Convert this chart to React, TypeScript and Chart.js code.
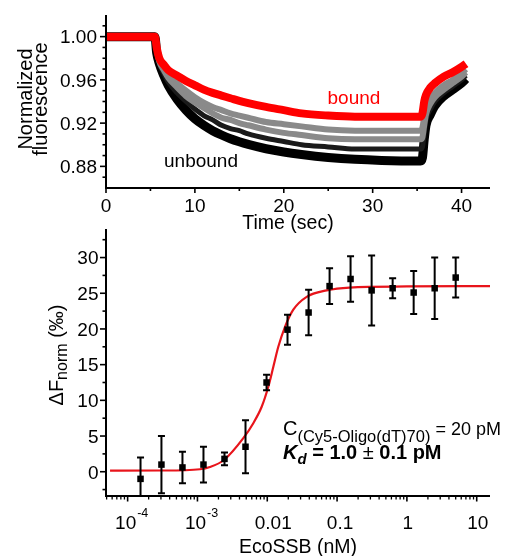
import { useEffect, useRef } from "react";
import { Chart, registerables } from "chart.js";

Chart.register(...registerables);

const SANS = '"Liberation Sans", Arial, Helvetica, sans-serif';

// ---------------- top panel: fluorescence traces ----------------
const timeSec = [0, 5.5, 5.7, 6.0, 6.5, 7, 8, 9, 10, 11, 12, 13, 14, 15, 16, 18, 20, 22, 25, 28, 31, 35.4, 35.6, 35.8, 36, 36.5, 37, 38, 39, 40, 40.5];
const fluorBound = [1.0, 1.0, 0.99, 0.98, 0.974, 0.969, 0.964, 0.959, 0.955, 0.951, 0.948, 0.9455, 0.943, 0.9405, 0.9385, 0.935, 0.932, 0.929, 0.927, 0.926, 0.926, 0.926, 0.929, 0.94, 0.946, 0.953, 0.957, 0.963, 0.967, 0.972, 0.975];
const fluorGrayA = [1.0, 1.0, 0.989, 0.979, 0.971, 0.965, 0.957, 0.95, 0.944, 0.939, 0.935, 0.932, 0.929, 0.927, 0.925, 0.921, 0.919, 0.917, 0.914, 0.913, 0.913, 0.913, 0.916, 0.926, 0.934, 0.942, 0.948, 0.955, 0.96, 0.966, 0.97];
const fluorGrayB = [1.0, 1.0, 0.988, 0.977, 0.969, 0.962, 0.953, 0.945, 0.939, 0.934, 0.929, 0.925, 0.923, 0.92, 0.918, 0.914, 0.911, 0.909, 0.906, 0.905, 0.905, 0.905, 0.907, 0.918, 0.928, 0.938, 0.944, 0.951, 0.957, 0.963, 0.967];
const fluorBlackA = [1.0, 1.0, 0.987, 0.975, 0.966, 0.958, 0.948, 0.94, 0.933, 0.927, 0.923, 0.918, 0.915, 0.913, 0.91, 0.906, 0.903, 0.9, 0.898, 0.896, 0.896, 0.896, 0.898, 0.911, 0.923, 0.933, 0.94, 0.948, 0.954, 0.96, 0.964];
const fluorUnbound = [1.0, 1.0, 0.985, 0.975, 0.964, 0.955, 0.942, 0.932, 0.924, 0.918, 0.913, 0.909, 0.9055, 0.9027, 0.9003, 0.8963, 0.8933, 0.891, 0.8883, 0.8865, 0.8855, 0.885, 0.888, 0.905, 0.918, 0.928, 0.936, 0.945, 0.951, 0.957, 0.961];

const timeMajorTicks = [0, 10, 20, 30, 40];
const timeMinorTicks = [5, 15, 25, 35];
const fluorMajorTicks = [0.88, 0.92, 0.96, 1.0];
const fluorMinorTicks = [0.87, 0.89, 0.9, 0.91, 0.93, 0.94, 0.95, 0.97, 0.98, 0.99, 1.01];

// ---------------- bottom panel: titration ----------------
const ecoSSBnM = [0.000153, 0.000305, 0.00061, 0.00122, 0.00244, 0.00488, 0.00977, 0.0195, 0.0391, 0.0781, 0.156, 0.3125, 0.625, 1.25, 2.5, 5];
const dFnorm = [-1.0, 1.0, 0.6, 1.0, 1.8, 3.5, 12.5, 19.9, 22.3, 26.0, 27.0, 25.4, 25.7, 25.1, 25.7, 27.2];
const dFnormErr = [3.0, 4.0, 2.2, 2.5, 0.9, 3.7, 1.1, 2.1, 3.2, 2.5, 3.2, 4.9, 1.4, 3.0, 4.3, 2.8];
const fitConcNM = [5.6e-5, 3e-4, 1.09e-3, 1.51e-3, 2.4e-3, 4.54e-3, 6.31e-3, 8.32e-3, 0.01035, 0.01222, 0.01439, 0.01795, 0.0236, 0.0367, 0.071, 0.15, 1, 15.5];
const fitDF = [0.15, 0.17, 0.35, 0.65, 1.64, 4.7, 6.8, 9.1, 11.9, 14.7, 17.5, 20.3, 22.7, 24.5, 25.4, 25.8, 25.95, 26.0];

const concMajorTicks = [1e-4, 1e-3, 1e-2, 1e-1, 1, 10];
const concTickBase = ["10", "10", "0.01", "0.1", "1", "10"];
const concTickExp = ["-4", "-3", "", "", "", ""];
const dfMajorTicks = [0, 5, 10, 15, 20, 25, 30];
const dfMinorTicks = [-2.5, 2.5, 7.5, 12.5, 17.5, 22.5, 27.5, 32.5];

const CONC_MIN = 4.9e-5;
const CONC_MAX = 15.5;

function concMinorTicks(): number[] {
  const out: number[] = [];
  for (let e = -5; e <= 1; e++) {
    for (let m = 2; m <= 9; m++) {
      const v = m * Math.pow(10, e);
      if (v >= CONC_MIN && v <= CONC_MAX) out.push(v);
    }
  }
  return out;
}

type Seg = { t: string; f: string; dy?: number };
function drawSegs(ctx: CanvasRenderingContext2D, segs: Seg[], x: number, y: number) {
  let cx = x;
  for (const s of segs) {
    ctx.font = s.f;
    ctx.fillText(s.t, cx, y + (s.dy || 0));
    cx += ctx.measureText(s.t).width;
  }
  return cx;
}
function segsWidth(ctx: CanvasRenderingContext2D, segs: Seg[]) {
  let w = 0;
  for (const s of segs) {
    ctx.font = s.f;
    w += ctx.measureText(s.t).width;
  }
  return w;
}

const topDeco = {
  id: "topDeco",
  afterDraw(chart: any) {
    const { ctx, chartArea: a } = chart;
    const x = chart.scales.x;
    const y = chart.scales.y;
    ctx.save();
    ctx.strokeStyle = "#000";
    ctx.fillStyle = "#000";
    ctx.lineWidth = 2;
    ctx.beginPath();
    ctx.moveTo(a.left, a.top);
    ctx.lineTo(a.left, a.bottom);
    ctx.lineTo(a.right, a.bottom);
    ctx.stroke();

    ctx.lineWidth = 1.6;
    for (const v of fluorMajorTicks) {
      const p = y.getPixelForValue(v);
      ctx.beginPath(); ctx.moveTo(a.left, p); ctx.lineTo(a.left - 6, p); ctx.stroke();
    }
    for (const v of fluorMinorTicks) {
      const p = y.getPixelForValue(v);
      ctx.beginPath(); ctx.moveTo(a.left, p); ctx.lineTo(a.left - 3.5, p); ctx.stroke();
    }
    for (const v of timeMajorTicks) {
      const p = x.getPixelForValue(v);
      ctx.beginPath(); ctx.moveTo(p, a.bottom); ctx.lineTo(p, a.bottom + 5); ctx.stroke();
    }
    for (const v of timeMinorTicks) {
      const p = x.getPixelForValue(v);
      ctx.beginPath(); ctx.moveTo(p, a.bottom); ctx.lineTo(p, a.bottom + 3); ctx.stroke();
    }

    ctx.font = `19px ${SANS}`;
    ctx.textBaseline = "alphabetic";
    ctx.textAlign = "right";
    for (const v of fluorMajorTicks) {
      ctx.fillText(v.toFixed(2), 97, y.getPixelForValue(v) + 6.8);
    }
    ctx.textAlign = "center";
    for (const v of timeMajorTicks) {
      ctx.fillText(String(v), x.getPixelForValue(v), 212);
    }
    ctx.font = `19.5px ${SANS}`;
    ctx.fillText("Time (sec)", 288, 228.5);

    // y title
    ctx.save();
    ctx.translate(31.5, 99);
    ctx.rotate(-Math.PI / 2);
    ctx.font = `20px ${SANS}`;
    ctx.textAlign = "center";
    ctx.fillText("Normalized", 0, 0);
    ctx.restore();
    ctx.save();
    ctx.translate(47, 99);
    ctx.rotate(-Math.PI / 2);
    ctx.font = `20px ${SANS}`;
    ctx.textAlign = "center";
    ctx.fillText("fluorescence", 0, 0);
    ctx.restore();

    ctx.textAlign = "left";
    ctx.font = `19px ${SANS}`;
    ctx.fillStyle = "#ff0000";
    ctx.fillText("bound", 327.5, 104);
    ctx.fillStyle = "#000";
    ctx.fillText("unbound", 164, 167);
    ctx.restore();
  },
};

const botDeco = {
  id: "botDeco",
  afterDatasetsDraw(chart: any) {
    const { ctx, chartArea: a } = chart;
    const x = chart.scales.x;
    const y = chart.scales.y;
    ctx.save();
    ctx.beginPath();
    ctx.rect(a.left, a.top, a.right - a.left, a.bottom - a.top);
    ctx.clip();
    ctx.strokeStyle = "#000";
    ctx.lineWidth = 2;
    for (let i = 0; i < ecoSSBnM.length; i++) {
      const px = x.getPixelForValue(ecoSSBnM[i]);
      const pt = y.getPixelForValue(dFnorm[i] + dFnormErr[i]);
      const pb = y.getPixelForValue(dFnorm[i] - dFnormErr[i]);
      ctx.beginPath();
      ctx.moveTo(px, pt); ctx.lineTo(px, pb);
      ctx.moveTo(px - 3.5, pt); ctx.lineTo(px + 3.5, pt);
      ctx.moveTo(px - 3.5, pb); ctx.lineTo(px + 3.5, pb);
      ctx.stroke();
    }
    ctx.restore();
  },
  afterDraw(chart: any) {
    const { ctx, chartArea: a } = chart;
    const x = chart.scales.x;
    const y = chart.scales.y;
    ctx.save();
    ctx.strokeStyle = "#000";
    ctx.fillStyle = "#000";
    ctx.lineWidth = 2;
    ctx.beginPath();
    ctx.moveTo(a.left, a.top);
    ctx.lineTo(a.left, a.bottom);
    ctx.lineTo(a.right, a.bottom);
    ctx.stroke();

    ctx.lineWidth = 1.6;
    for (const v of dfMajorTicks) {
      const p = y.getPixelForValue(v);
      ctx.beginPath(); ctx.moveTo(a.left, p); ctx.lineTo(a.left - 6, p); ctx.stroke();
    }
    for (const v of dfMinorTicks) {
      const p = y.getPixelForValue(v);
      ctx.beginPath(); ctx.moveTo(a.left, p); ctx.lineTo(a.left - 3.5, p); ctx.stroke();
    }
    for (const v of concMajorTicks) {
      const p = x.getPixelForValue(v);
      ctx.beginPath(); ctx.moveTo(p, a.bottom); ctx.lineTo(p, a.bottom + 5.5); ctx.stroke();
    }
    ctx.lineWidth = 1.3;
    for (const v of concMinorTicks()) {
      const p = x.getPixelForValue(v);
      ctx.beginPath(); ctx.moveTo(p, a.bottom); ctx.lineTo(p, a.bottom + 3.5); ctx.stroke();
    }

    // y tick labels
    ctx.font = `19px ${SANS}`;
    ctx.textBaseline = "alphabetic";
    ctx.textAlign = "right";
    for (const v of dfMajorTicks) {
      ctx.fillText(String(v), 98.5, y.getPixelForValue(v) + 6.8);
    }
    // x tick labels
    const shift: Record<string, number> = { "0.01": 6, "0.1": 3 };
    for (let i = 0; i < concMajorTicks.length; i++) {
      const p = x.getPixelForValue(concMajorTicks[i]);
      const base = concTickBase[i];
      const ex = concTickExp[i];
      ctx.font = `19px ${SANS}`;
      ctx.textAlign = "center";
      if (ex) {
        const bx = p - 2;
        ctx.fillText(base, bx, 309);
        const bw = ctx.measureText(base).width;
        ctx.font = `12.5px ${SANS}`;
        ctx.textAlign = "left";
        ctx.fillText(ex, bx + bw / 2 + 1, 297);
      } else {
        ctx.fillText(base, p + (shift[base] || 1), 309);
      }
    }
    ctx.textAlign = "center";
    ctx.font = `19.5px ${SANS}`;
    ctx.fillText("EcoSSB (nM)", 298, 332.5);

    // y title: ΔF_norm (‰)
    ctx.save();
    ctx.translate(63, 135);
    ctx.rotate(-Math.PI / 2);
    ctx.textAlign = "left";
    const ySegs: Seg[] = [
      { t: "\u0394F", f: `20px ${SANS}` },
      { t: "norm", f: `16px ${SANS}`, dy: 4 },
      { t: " (\u2030)", f: `20px ${SANS}` },
    ];
    const yw = segsWidth(ctx, ySegs);
    drawSegs(ctx, ySegs, -yw / 2, 0);
    ctx.restore();

    // annotation
    ctx.textAlign = "left";
    drawSegs(
      ctx,
      [
        { t: "C", f: `20px ${SANS}` },
        { t: "(Cy5-Oligo(dT)70)", f: `16.5px ${SANS}`, dy: 7 },
        { t: " = 20 pM", f: `18px ${SANS}` },
      ],
      283,
      215
    );
    drawSegs(
      ctx,
      [
        { t: "K", f: `italic bold 20px ${SANS}` },
        { t: "d", f: `italic bold 15px ${SANS}`, dy: 5 },
        { t: " = 1.0 ", f: `bold 20px ${SANS}` },
        { t: "\u00B1", f: `20px ${SANS}` },
        { t: " 0.1 pM", f: `bold 20px ${SANS}` },
      ],
      283,
      238.5
    );
    ctx.restore();
  },
};

function topConfig(): any {
  const mk = (vals: number[]) => timeSec.map((t, i) => ({ x: t, y: vals[i] }));
  return {
    type: "scatter",
    data: {
      datasets: [
        { data: mk(fluorBound), borderColor: "#ff0000", borderWidth: 8 },
        { data: mk(fluorGrayA), borderColor: "#8a8a8a", borderWidth: 6 },
        { data: mk(fluorGrayB), borderColor: "#8a8a8a", borderWidth: 6 },
        { data: mk(fluorBlackA), borderColor: "#1a1a1a", borderWidth: 5 },
        { data: mk(fluorUnbound), borderColor: "#000000", borderWidth: 9 },
      ].map((d) => ({
        ...d,
        showLine: true,
        pointRadius: 0,
        cubicInterpolationMode: "monotone",
        fill: false,
      })),
    },
    options: {
      animation: false,
      responsive: false,
      events: [],
      layout: { padding: { left: 106, right: 19, top: 15, bottom: 52 } },
      scales: {
        x: { type: "linear", min: 0, max: 43.2, display: false },
        y: { type: "linear", min: 0.86, max: 1.02, display: false },
      },
      plugins: { legend: { display: false }, tooltip: { enabled: false } },
    },
    plugins: [topDeco],
  };
}

function botConfig(): any {
  return {
    type: "scatter",
    data: {
      datasets: [
        {
          data: ecoSSBnM.map((c, i) => ({ x: c, y: dFnorm[i] })),
          pointStyle: "rect",
          pointRadius: 4.6,
          backgroundColor: "#000",
          borderWidth: 0,
          showLine: false,
        },
        {
          data: fitConcNM.map((c, i) => ({ x: c, y: fitDF[i] })),
          showLine: true,
          pointRadius: 0,
          borderColor: "#e8141b",
          borderWidth: 2.2,
          cubicInterpolationMode: "monotone",
          fill: false,
        },
      ],
    },
    options: {
      animation: false,
      responsive: false,
      events: [],
      layout: { padding: { left: 106, right: 19, top: 9, bottom: 60 } },
      scales: {
        x: { type: "logarithmic", min: CONC_MIN, max: CONC_MAX, display: false },
        y: { type: "linear", min: -3.4, max: 34, display: false },
      },
      plugins: { legend: { display: false }, tooltip: { enabled: false } },
    },
    plugins: [botDeco],
  };
}

export default function App() {
  const topRef = useRef<HTMLCanvasElement>(null);
  const botRef = useRef<HTMLCanvasElement>(null);
  useEffect(() => {
    const top = new Chart(topRef.current as HTMLCanvasElement, topConfig());
    const bot = new Chart(botRef.current as HTMLCanvasElement, botConfig());
    return () => {
      top.destroy();
      bot.destroy();
    };
  }, []);
  return (
    <div style={{ position: "absolute", left: 0, top: 0, width: 509, height: 556, background: "#fff" }}>
      <canvas ref={topRef} width={509} height={240} style={{ position: "absolute", left: 0, top: 0, width: 509, height: 240 }} />
      <canvas ref={botRef} width={509} height={336} style={{ position: "absolute", left: 0, top: 220, width: 509, height: 336 }} />
    </div>
  );
}
